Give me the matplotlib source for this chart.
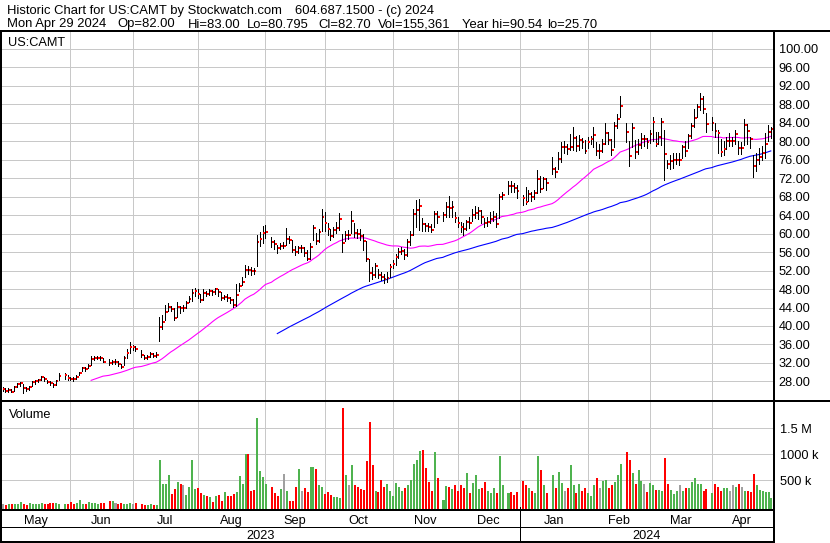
import numpy as np
import pandas as pd
import matplotlib
matplotlib.use('Agg')
import matplotlib.pyplot as plt
from matplotlib.patches import Rectangle

plt.rcParams['font.family'] = ['Liberation Sans', 'DejaVu Sans']

# daily bars, May 1 2023 .. Apr 29 2024 (one line per month)
close = [
    26.3, 26.0, 26.2, 25.8, 26.8, 27.4, 27.6, 26.6, 26.3, 26.8, 27.9, 28.0, 28.3, 28.9, 28.6, 27.9, 27.7, 27.2, 28.1, 29.1, 29.4, 28.7,
    28.6, 28.5, 29.0, 29.8, 30.8, 30.6, 31.4, 32.8, 33.0, 33.1, 33.0, 32.3, 32.0, 32.2, 32.2, 31.8, 31.2, 33.0, 34.2, 35.4, 35.4,
    35.0, 33.8, 33.0, 33.2, 33.9, 33.6, 33.7, 39.8, 40.8, 43.1, 44.2, 43.7, 41.8, 44.2, 43.9, 43.9, 45.0, 45.9, 47.2, 47.6,
    46.9, 45.6, 47.2, 47.0, 47.6, 47.3, 47.9, 47.3, 46.1, 46.3, 46.1, 45.7, 44.5, 46.7, 48.6, 49.6, 52.2, 52.1, 52.0, 51.9, 58.2, 58.9, 60.2,
    60.4, 58.2, 57.8, 56.8, 57.4, 57.4, 58.9, 58.7, 56.5, 56.1, 56.8, 56.8, 55.9, 54.5, 57.0, 61.3, 58.3, 60.3, 63.7, 62.3,
    61.0, 59.5, 60.8, 61.3, 63.2, 57.9, 59.7, 59.7, 62.8, 60.1, 60.0, 59.5, 58.5, 54.5, 51.4, 51.1, 52.9, 51.1, 50.7, 50.1, 50.4, 52.7,
    53.4, 54.9, 56.0, 56.3, 55.3, 58.1, 59.8, 64.3, 65.1, 65.9, 62.1, 61.7, 61.4, 60.8, 64.3, 63.7, 64.1, 65.7, 65.6, 65.8, 63.4,
    62.4, 61.5, 61.1, 62.6, 62.3, 64.1, 64.4, 64.9, 63.7, 62.3, 62.5, 63.1, 63.6, 62.1, 67.9, 68.4, 70.4, 70.2, 69.8, 69.3,
    67.6, 66.9, 68.5, 68.0, 68.7, 71.8, 69.7, 71.8, 71.0, 74.0, 73.4, 76.2, 78.8, 78.8, 78.3, 78.8, 80.6, 79.0, 80.2, 79.8, 77.9,
    79.8, 80.5, 81.4, 77.9, 77.9, 79.3, 81.7, 80.2, 78.2, 83.3, 84.7, 87.7, 82.0, 76.8, 82.9, 77.7, 79.1, 80.4, 80.4, 79.8,
    81.5, 84.2, 79.4, 80.9, 84.2, 77.2, 75.0, 75.7, 75.9, 76.0, 76.0, 78.8, 77.9, 81.2, 83.2, 85.1, 87.4, 89.2, 87.0, 83.8,
    84.0, 82.2, 81.7, 77.7, 78.4, 80.1, 80.1, 80.1, 81.5, 78.6, 78.6, 83.6, 82.2, 80.4, 74.6, 75.9, 76.5, 77.5, 79.5, 82.0, 82.7,
]
high = [
    26.9, 26.5, 26.6, 26.4, 27.0, 27.6, 27.8, 27.5, 26.8, 27.0, 28.2, 28.4, 28.6, 29.2, 29.0, 28.4, 28.0, 27.6, 28.4, 29.9, 29.9, 29.3,
    29.0, 28.9, 29.3, 30.1, 31.1, 31.2, 31.7, 33.4, 33.5, 33.6, 33.5, 33.0, 32.8, 32.6, 32.8, 32.4, 31.8, 33.4, 35.1, 36.5, 35.8,
    35.6, 34.7, 33.7, 33.8, 34.3, 34.2, 34.3, 42.0, 42.3, 44.5, 44.9, 44.4, 43.8, 45.2, 44.4, 44.6, 45.5, 46.6, 48.0, 48.3,
    48.0, 47.0, 47.9, 47.5, 48.0, 47.7, 48.3, 48.0, 47.3, 46.8, 46.9, 46.3, 45.8, 49.0, 49.2, 50.6, 53.2, 53.0, 52.8, 52.6, 59.7, 60.3, 61.7,
    61.9, 59.2, 58.6, 57.6, 58.0, 58.2, 61.2, 59.4, 58.6, 57.3, 57.4, 57.5, 57.1, 56.5, 58.0, 61.9, 60.2, 61.0, 65.3, 64.6,
    62.3, 61.0, 61.4, 62.5, 64.4, 59.9, 60.5, 60.8, 65.0, 62.3, 61.0, 60.9, 60.0, 58.5, 54.5, 52.8, 53.6, 52.4, 51.6, 51.3, 51.7, 53.4,
    54.2, 55.6, 56.8, 57.2, 56.6, 58.9, 60.6, 65.3, 67.3, 67.5, 63.3, 62.4, 62.3, 62.0, 65.0, 64.8, 64.7, 66.8, 68.2, 67.0, 64.6,
    63.7, 62.6, 62.2, 63.0, 63.5, 65.3, 66.0, 65.8, 65.2, 63.4, 63.6, 64.6, 65.0, 64.5, 68.5, 69.0, 71.3, 71.4, 71.0, 70.5,
    68.3, 70.1, 69.5, 69.0, 69.4, 73.7, 72.4, 72.3, 72.0, 76.5, 74.5, 77.7, 79.9, 80.0, 79.3, 81.5, 83.0, 81.2, 81.3, 80.8, 80.2,
    81.0, 81.2, 83.1, 79.8, 79.5, 80.5, 84.0, 82.0, 80.4, 84.1, 85.8, 89.7, 84.0, 80.0, 84.0, 80.3, 80.5, 81.8, 81.3, 80.7,
    82.4, 85.3, 82.0, 82.0, 85.0, 82.4, 76.0, 77.0, 77.5, 77.4, 77.5, 79.2, 80.0, 81.5, 84.0, 86.9, 88.0, 90.5, 89.8, 86.0,
    85.2, 84.0, 82.5, 80.5, 80.0, 81.0, 81.8, 81.0, 82.5, 80.0, 79.8, 84.9, 83.8, 81.0, 77.0, 77.5, 78.5, 79.0, 81.7, 83.5, 83.0,
]
low = [
    25.9, 25.8, 25.8, 25.7, 26.0, 26.8, 27.1, 25.6, 26.0, 26.2, 27.0, 27.5, 27.8, 28.3, 28.2, 27.6, 27.3, 26.9, 27.3, 28.3, 28.6, 28.4,
    28.3, 28.1, 28.6, 29.3, 30.2, 30.3, 30.9, 31.5, 32.6, 32.8, 32.6, 32.1, 31.6, 31.8, 31.8, 31.4, 30.9, 31.6, 33.0, 34.2, 34.8,
    34.6, 33.3, 32.8, 32.8, 33.2, 33.2, 33.3, 36.8, 39.3, 41.3, 43.3, 43.3, 41.3, 42.0, 42.8, 43.3, 43.9, 45.2, 45.5, 46.6,
    46.0, 45.2, 45.6, 46.5, 46.8, 46.8, 47.0, 46.4, 45.6, 45.8, 45.5, 45.0, 44.1, 44.3, 47.5, 48.9, 50.5, 51.2, 51.0, 51.2, 53.0, 57.3, 58.0,
    59.0, 57.2, 56.6, 55.8, 56.6, 56.9, 57.6, 57.9, 56.0, 55.4, 55.8, 56.0, 55.2, 54.2, 54.6, 58.7, 57.8, 58.2, 60.5, 60.6,
    59.8, 58.7, 59.2, 60.2, 60.8, 56.0, 58.5, 58.8, 60.2, 59.3, 59.0, 58.6, 56.4, 54.0, 49.7, 50.2, 50.6, 50.3, 50.0, 49.4, 49.6, 50.6,
    52.5, 53.2, 54.8, 55.5, 54.6, 55.2, 57.5, 59.7, 61.5, 60.8, 60.5, 60.6, 60.5, 60.3, 61.5, 62.4, 62.8, 63.6, 63.7, 63.6, 62.6,
    61.5, 60.4, 59.8, 60.7, 61.3, 62.8, 63.4, 63.2, 62.4, 61.4, 61.6, 62.2, 62.8, 61.5, 63.4, 67.5, 68.5, 69.0, 69.0, 67.6,
    66.1, 66.5, 67.0, 67.0, 67.4, 68.7, 69.0, 69.8, 69.5, 73.0, 72.2, 73.9, 75.5, 77.4, 77.3, 78.0, 78.1, 77.8, 78.0, 78.6, 77.4,
    78.5, 79.3, 78.8, 77.0, 76.3, 77.6, 79.5, 79.4, 77.0, 78.8, 82.8, 85.3, 79.9, 74.6, 78.8, 76.3, 77.3, 78.5, 78.9, 78.6,
    79.6, 80.0, 79.0, 79.3, 79.1, 71.6, 74.1, 74.0, 74.2, 75.0, 74.8, 76.4, 76.9, 78.5, 80.6, 83.1, 85.3, 86.7, 86.0, 82.0,
    82.5, 81.0, 77.5, 76.7, 77.0, 78.4, 79.0, 79.0, 79.5, 77.3, 77.2, 79.1, 79.5, 78.6, 72.3, 73.5, 75.0, 76.0, 76.3, 80.0, 80.8,
]
# volume in thousands of shares
volume = [
    40, 30, 40, 45, 40, 50, 90, 40, 30, 60, 40, 40, 40, 70, 50, 40, 60, 70, 55, 40, 45, 40,
    80, 40, 60, 120, 50, 40, 80, 70, 60, 50, 70, 60, 100, 110, 60, 40, 70, 40, 50, 60, 40,
    70, 40, 30, 30, 40, 30, 30, 900, 420, 430, 600, 240, 330, 460, 430, 410, 220, 380, 890, 340,
    360, 260, 220, 200, 170, 90, 200, 220, 100, 280, 200, 200, 240, 280, 590, 430, 1000, 1010, 300, 310, 1700, 680, 570,
    430, 380, 250, 200, 340, 630, 290, 110, 110, 380, 720, 300, 350, 280, 760, 750, 720, 400, 380, 240,
    280, 220, 180, 180, 150, 1900, 600, 400, 790, 410, 380, 330, 320, 870, 1630, 800, 300, 280, 500, 380, 420, 300,
    200, 450, 380, 300, 350, 400, 500, 815, 890, 1060, 1080, 730, 470, 300, 1050, 550, 130, 390, 380, 330, 400,
    300, 400, 350, 650, 250, 450, 600, 330, 350, 470, 300, 250, 350, 250, 970, 400, 250, 280, 220, 270,
    480, 400, 350, 300, 250, 960, 700, 400, 250, 600, 350, 665, 450, 300, 350, 790, 400, 250, 420, 300, 350,
    250, 200, 400, 537, 350, 480, 500, 350, 400, 473, 600, 815, 1050, 890, 650, 420, 690, 480, 430, 280,
    450, 400, 310, 310, 300, 920, 420, 310, 230, 300, 400, 300, 350, 350, 470, 550, 420, 430, 300, 340,
    250, 420, 380, 300, 360, 350, 300, 400, 380, 420, 380, 300, 300, 280, 620, 400, 320, 300, 280, 270, 155,
]
holidays = ['2023-05-29', '2023-06-19', '2023-07-04', '2023-09-04', '2023-11-23',
            '2023-12-25', '2024-01-01', '2024-01-15', '2024-02-19', '2024-03-29']
month_names = ['May', 'Jun', 'Jul', 'Aug', 'Sep', 'Oct', 'Nov', 'Dec', 'Jan', 'Feb', 'Mar', 'Apr']
# header lines, each piece with its left edge in pixels
title1 = [(7, 'Historic Chart for US:CAMT by Stockwatch.com'), (295, '604.687.1500 - (c) 2024')]
title2 = [(7, 'Mon Apr 29 2024'), (117, 'Op=82.00'), (188, 'Hi=83.00'), (247, 'Lo=80.795'),
          (318, 'Cl=82.70'), (378, 'Vol=155,361'), (462, 'Year hi=90.54'), (547, 'lo=25.70')]

# x axis: one slot per weekday, holidays left empty
weekdays = pd.bdate_range('2023-05-01', '2024-04-29')
days = weekdays[~weekdays.isin(pd.to_datetime(holidays))]
x = np.asarray(weekdays.get_indexer(days), dtype=float)
assert len(days) == len(close) == len(high) == len(low) == len(volume)

c = pd.Series(close)
ma30 = c.rolling(30).mean()
ma90 = c.rolling(90).mean()
chg = c.diff().fillna(0)
vcol = np.where(chg > 0, '#4fb34f', np.where(chg < 0, '#ff0000', '#a0a0a0'))

month_starts = pd.date_range('2023-06-01', '2024-04-01', freq='MS')
grid_x = [weekdays.searchsorted(m, side='right') - 1 for m in month_starts]

W, H = 830, 543
fig = plt.figure(figsize=(W / 100, H / 100), dpi=100)
fig.patch.set_facecolor('white')


def box(x0, y0, x1, y1):
    return [x0 / W, 1 - y1 / H, (x1 - x0) / W, (y1 - y0) / H]


ax_p = fig.add_axes(box(2, 32, 773, 400))
ax_v = fig.add_axes(box(2, 402, 773, 509), sharex=ax_p)
ax_m = fig.add_axes(box(2, 510, 773, 527), sharex=ax_p)
ax_yr = fig.add_axes(box(2, 528, 773, 541), sharex=ax_p)
xl = (-0.17, 260.75)
grid_c = '#c8c8c8'
fs = 9.2
px = 0.72  # one pixel in points

for a in (ax_p, ax_v, ax_m, ax_yr):
    for s in a.spines.values():
        s.set_visible(False)
    a.set_xlim(*xl)
    a.tick_params(axis='x', bottom=False, labelbottom=False)

# price panel
ax_p.set_ylim(23.98, 103.64)
ax_p.set_yticks(np.arange(28, 101, 4))
ax_p.set_yticklabels([f'{v:.2f}' for v in np.arange(28, 101, 4)])
ax_p.yaxis.tick_right()
ax_p.tick_params(axis='y', length=0, pad=4, labelsize=fs)
ax_p.grid(axis='y', color=grid_c, lw=px, antialiased=False)
for g in grid_x:
    ax_p.axvline(g, color=grid_c, lw=px, zorder=0, antialiased=False)
ax_p.set_axisbelow(True)
ax_p.vlines(x, low, high, color='black', lw=px, antialiased=False, zorder=3)
ax_p.hlines(close, x + 0.3, x + 0.95, color='red', lw=2 * px, antialiased=False, zorder=4)
ax_p.plot(x, ma30, color='#ff00ff', lw=0.8, zorder=2)
ax_p.plot(x, ma90, color='#0000ff', lw=0.8, zorder=2)

# volume panel
vbot = -52
ax_v.set_ylim(vbot, 2006)
ax_v.set_yticks([500, 1000, 1500])
ax_v.set_yticklabels(['500 k', '1000 k', '1.5 M'])
ax_v.yaxis.tick_right()
ax_v.tick_params(axis='y', length=0, pad=5, labelsize=fs)
ax_v.grid(axis='y', color=grid_c, lw=px, antialiased=False)
for g in grid_x:
    ax_v.axvline(g, color=grid_c, lw=px, zorder=0, antialiased=False)
ax_v.set_axisbelow(True)
ax_v.bar(x - 0.1, np.array(volume) - vbot, bottom=vbot, width=0.68,
         color=vcol, align='edge', antialiased=False, zorder=3)

# month and year rows
for a in (ax_m, ax_yr):
    a.set_yticks([])
    a.set_ylim(0, 1)
bounds = [xl[0]] + grid_x + [xl[1]]
for i, name in enumerate(month_names):
    ax_m.text((bounds[i] + bounds[i + 1]) / 2, 0.35, name, ha='center', va='center', fontsize=fs)
jan = grid_x[7]
ax_yr.text((xl[0] + jan) / 2, 0.4, '2023', ha='center', va='center', fontsize=fs)
ax_yr.text((jan + xl[1]) / 2, 0.4, '2024', ha='center', va='center', fontsize=fs)
for a in (ax_m, ax_yr):
    a.axvline(jan, color='black', lw=px, ymin=-0.2, ymax=1.2, clip_on=False, antialiased=False)

# frame and texts in pixel coordinates
ax_o = fig.add_axes([0, 0, 1, 1], zorder=10)
ax_o.set_xlim(0, W)
ax_o.set_ylim(H, 0)
ax_o.axis('off')
ax_o.patch.set_alpha(0)
for (x0, y0, w, h) in [(0, 29.5, W, 2), (0, 29.5, 2, H - 29.5), (772.5, 29.5, 2.5, H - 29.5),
                       (0, 400, W, 2), (0, 509, 775, 1.5), (0, 527, 775, 1), (0, 541, 775, 2)]:
    ax_o.add_patch(Rectangle((x0, y0), w, h, color='black', lw=0))
for (tx, t) in title1:
    ax_o.text(tx, 14, t, fontsize=fs + 0.2, va='baseline')
for (tx, t) in title2:
    ax_o.text(tx, 27.5, t, fontsize=fs + 0.2, va='baseline')
ax_o.text(8, 45.5, 'US:CAMT', fontsize=fs, va='baseline')
ax_o.text(9, 418, 'Volume', fontsize=fs, va='baseline')

fig.savefig('out.png', dpi=100)
